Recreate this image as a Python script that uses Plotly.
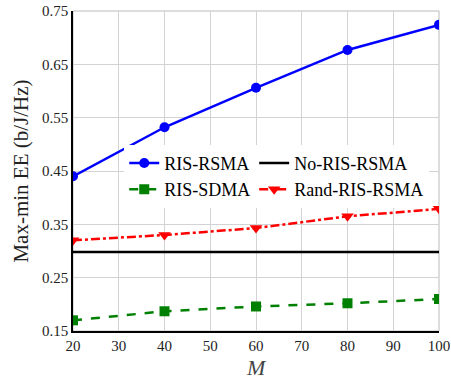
import plotly.graph_objects as go

M = [20, 40, 60, 80, 100]
ris_rsma = [0.440, 0.532, 0.606, 0.677, 0.724]
ris_sdma = [0.170, 0.187, 0.196, 0.202, 0.210]
no_ris_rsma = [0.298, 0.298, 0.298, 0.298, 0.298]
rand_ris_rsma = [0.320, 0.330, 0.343, 0.365, 0.379]
y_ticks = [0.15, 0.25, 0.35, 0.45, 0.55, 0.65, 0.75]
x_ticks = [20, 30, 40, 50, 60, 70, 80, 90, 100]

FONT = "Liberation Serif"
fig = go.Figure()
fig.add_trace(go.Scatter(x=M, y=ris_rsma, name="RIS-RSMA", mode="lines+markers",
                         line=dict(color="#0000ff", width=2.5),
                         marker=dict(symbol="circle", size=10, color="#0000ff"),
                         legend="legend"))
fig.add_trace(go.Scatter(x=M, y=ris_sdma, name="RIS-SDMA", mode="lines+markers",
                         line=dict(color="#008000", width=2.5, dash="dash"),
                         marker=dict(symbol="square", size=10, color="#008000"),
                         legend="legend"))
fig.add_trace(go.Scatter(x=M, y=no_ris_rsma, name="No-RIS-RSMA", mode="lines",
                         line=dict(color="black", width=2.5),
                         legend="legend2"))
fig.add_trace(go.Scatter(x=M, y=rand_ris_rsma, name="Rand-RIS-RSMA", mode="lines+markers",
                         line=dict(color="#ff0000", width=2.5, dash="dashdot"),
                         marker=dict(symbol="triangle-down", size=11, color="#ff0000"),
                         legend="legend2"))

fig.update_layout(
    width=451, height=379,
    margin=dict(l=73, r=12, t=11, b=48),
    paper_bgcolor="white", plot_bgcolor="white",
    font=dict(family=FONT, size=14, color="#222"),
    legend=dict(x=0.14, y=0.582, xanchor="left", yanchor="top",
                bgcolor="white", font=dict(family=FONT, size=18, color="black"),
                itemwidth=30, tracegroupgap=0),
    legend2=dict(x=0.495, y=0.582, xanchor="left", yanchor="top",
                 bgcolor="white", font=dict(family=FONT, size=18, color="black"),
                 itemwidth=30, tracegroupgap=0),
    annotations=[dict(text="<i>M</i>", xref="paper", yref="paper", x=0.5, y=-0.115,
                      xanchor="center", yanchor="middle", showarrow=False,
                      font=dict(family=FONT, size=22, color="#444"))],
)
fig.update_xaxes(range=[20, 100], tickvals=x_ticks, showgrid=True, gridcolor="#d3d3d3",
                 showline=True, linecolor="black", linewidth=1.5, zeroline=False,
                 automargin=False,
                 tickfont=dict(family=FONT, size=15, color="#222"))
fig.update_yaxes(range=[0.15, 0.75], tickvals=y_ticks, tickformat=".2f", showgrid=True,
                 gridcolor="#d3d3d3", showline=True, linecolor="black", linewidth=1.5,
                 zeroline=False, automargin=False,
                 title=dict(text="Max-min EE (b/J/Hz)", font=dict(family=FONT, size=21, color="#222"), standoff=8),
                 tickfont=dict(family=FONT, size=15, color="#222"))
# top/right border in grey
fig.add_shape(type="rect", xref="paper", yref="paper", x0=0, y0=0, x1=1, y1=1,
              line=dict(color="#bbbbbb", width=1), layer="below")
fig.write_html("out.html", config={"displayModeBar": False},
               post_script="document.body.style.margin='0';")
